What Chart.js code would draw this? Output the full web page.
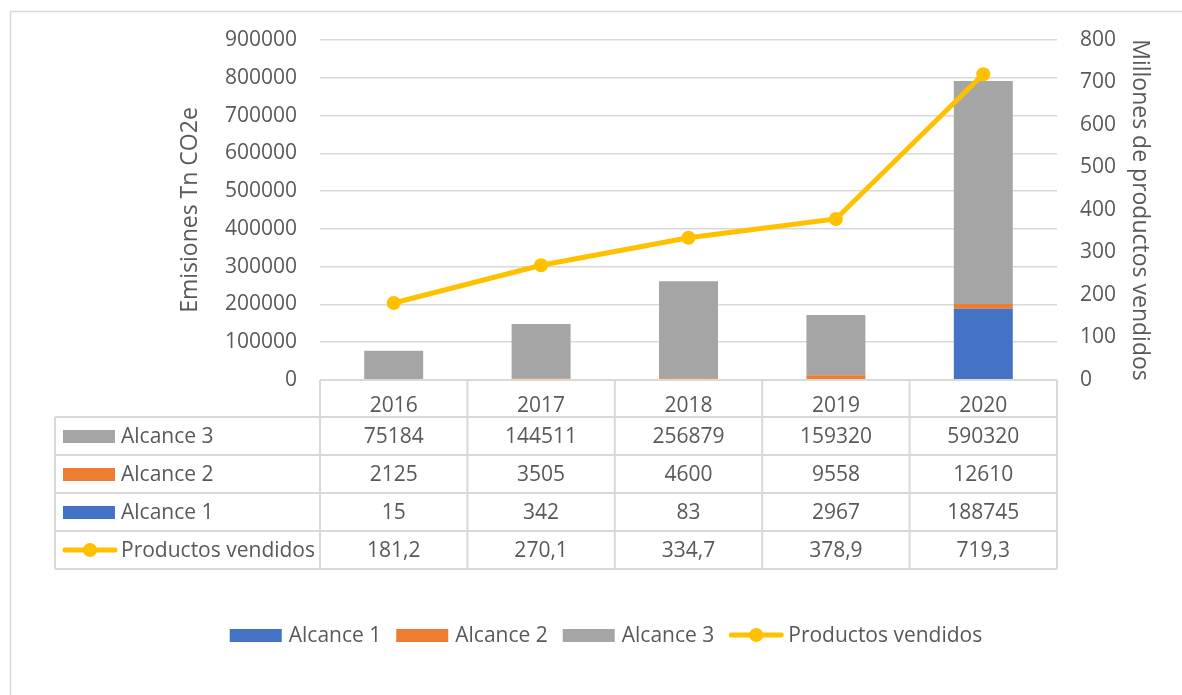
<!DOCTYPE html>
<html>
<head>
<meta charset="utf-8">
<script src="https://cdn.jsdelivr.net/npm/chart.js@4.4.1/dist/chart.umd.min.js"></script>
<style>
  html, body { margin: 0; padding: 0; background: #fff; }
  canvas { display: block; }
</style>
</head>
<body>
<canvas id="chart" width="1182" height="695"></canvas>
<script>
// data
const years = ["2016", "2017", "2018", "2019", "2020"];
const alcance1 = [15, 342, 83, 2967, 188745];
const alcance2 = [2125, 3505, 4600, 9558, 12610];
const alcance3 = [75184, 144511, 256879, 159320, 590320];
const productos = [181.2, 270.1, 334.7, 378.9, 719.3];
const leftTicks = { min: 0, max: 900000, step: 100000 };
const rightTicks = { min: 0, max: 800, step: 100 };

const BLUE = "#4472c4";
const ORANGE = "#ed7d31";
const GRAY = "#a5a5a5";
const YELLOW = "#ffc000";
const TEXT = "#595959";
const LINE = "#d9d9d9";
const FONT = "Open Sans";
const FSIZE = 21;

const fmtComma = (v) => v.toFixed(1).replace(".", ",");

// table rows, top to bottom, like the Excel data table
const tableRows = [
  { label: "Alcance 3", color: GRAY, values: alcance3, type: "bar" },
  { label: "Alcance 2", color: ORANGE, values: alcance2, type: "bar" },
  { label: "Alcance 1", color: BLUE, values: alcance1, type: "bar" },
  { label: "Productos vendidos", color: YELLOW, values: productos, type: "line", fmt: fmtComma },
];
const legendItems = [
  { label: "Alcance 1", color: BLUE, type: "bar" },
  { label: "Alcance 2", color: ORANGE, type: "bar" },
  { label: "Alcance 3", color: GRAY, type: "bar" },
  { label: "Productos vendidos", color: YELLOW, type: "line" },
];

function drawKey(ctx, item, x, cy) {
  if (item.type === "bar") {
    ctx.fillStyle = item.color;
    ctx.fillRect(x, cy - 6, 52, 13);
  } else {
    ctx.strokeStyle = item.color;
    ctx.lineWidth = 5;
    ctx.lineCap = "round";
    ctx.beginPath();
    ctx.moveTo(x + 2, cy);
    ctx.lineTo(x + 52, cy);
    ctx.stroke();
    ctx.fillStyle = item.color;
    ctx.beginPath();
    ctx.arc(x + 27, cy, 7, 0, Math.PI * 2);
    ctx.fill();
  }
}

const tablePlugin = {
  id: "dataTable",
  afterDraw(chart) {
    const ctx = chart.ctx;
    const area = chart.chartArea;
    const xs = chart.scales.x;
    const colW = xs.getPixelForValue(1) - xs.getPixelForValue(0);
    const headH = 37, rowH = 38;
    const tableLeft = 55;
    const top = area.bottom;
    const rowsTop = top + headH;
    const bottom = rowsTop + rowH * tableRows.length;

    ctx.save();
    // outer frame
    ctx.strokeStyle = LINE;
    ctx.lineWidth = 1.5;
    ctx.strokeRect(10.5, 11.5, 1300, 800);

    // grid of the table
    ctx.strokeStyle = LINE;
    ctx.lineWidth = 2;
    ctx.beginPath();
    ctx.moveTo(area.left, top); ctx.lineTo(area.right, top);
    for (let r = 0; r <= tableRows.length; r++) {
      const y = rowsTop + r * rowH;
      ctx.moveTo(tableLeft, y); ctx.lineTo(area.right, y);
    }
    ctx.moveTo(tableLeft, rowsTop); ctx.lineTo(tableLeft, bottom);
    for (let c = 0; c <= years.length; c++) {
      const x = area.left + c * colW;
      ctx.moveTo(x, top); ctx.lineTo(x, bottom);
    }
    ctx.stroke();

    ctx.font = FSIZE + "px '" + FONT + "'";
    ctx.textBaseline = "middle";
    tableRows.forEach((row, r) => {
      const cy = rowsTop + r * rowH + rowH / 2;
      drawKey(ctx, row, 63, cy);
      ctx.fillStyle = TEXT;
      ctx.textAlign = "left";
      ctx.fillText(row.label, 121, cy + 1);
      ctx.textAlign = "center";
      row.values.forEach((v, i) => {
        const txt = row.fmt ? row.fmt(v) : String(v);
        ctx.fillText(txt, xs.getPixelForValue(i), cy + 1);
      });
    });

    // legend
    const ly = 635;
    const widths = legendItems.map((it) => 52 + 7 + ctx.measureText(it.label).width);
    const gap = 15;
    const total = widths.reduce((a, b) => a + b, 0) + gap * (legendItems.length - 1);
    let lx = 606 - total / 2;
    ctx.textAlign = "left";
    legendItems.forEach((it, i) => {
      drawKey(ctx, it, lx, ly);
      ctx.fillStyle = TEXT;
      ctx.fillText(it.label, lx + 59, ly + 1);
      lx += widths[i] + gap;
    });
    ctx.restore();
  },
};

const tickFont = { family: FONT, size: FSIZE };
const titleFont = { family: FONT, size: 23 };

new Chart(document.getElementById("chart"), {
  data: {
    labels: years,
    datasets: [
      { type: "bar", label: "Alcance 1", data: alcance1, backgroundColor: BLUE, yAxisID: "y", order: 1, stack: "s" },
      { type: "bar", label: "Alcance 2", data: alcance2, backgroundColor: ORANGE, yAxisID: "y", order: 1, stack: "s" },
      { type: "bar", label: "Alcance 3", data: alcance3, backgroundColor: GRAY, yAxisID: "y", order: 1, stack: "s" },
      {
        type: "line", label: "Productos vendidos", data: productos, yAxisID: "y1", order: 0,
        borderColor: YELLOW, backgroundColor: YELLOW, borderWidth: 5,
        pointRadius: 7, pointBackgroundColor: YELLOW, pointBorderWidth: 0, tension: 0,
      },
    ],
  },
  options: {
    responsive: false,
    animation: false,
    devicePixelRatio: 1,
    layout: { padding: { top: 40, left: 0, right: 0, bottom: 0 } },
    datasets: { bar: { categoryPercentage: 1, barPercentage: 0.4 } },
    plugins: { legend: { display: false }, tooltip: { enabled: false } },
    scales: {
      x: {
        stacked: true,
        grid: { display: false },
        border: { display: false },
        ticks: { color: TEXT, font: tickFont, padding: 5, maxRotation: 0 },
        afterFit(scale) { scale.height = 315; },
      },
      y: {
        position: "left",
        stacked: true,
        min: leftTicks.min,
        max: leftTicks.max,
        grid: { color: LINE, lineWidth: 1.5, drawTicks: false },
        border: { display: false },
        ticks: { stepSize: leftTicks.step, color: TEXT, font: tickFont, padding: 23, callback: (v) => String(v) },
        title: { display: true, text: "Emisiones Tn CO2e", color: TEXT, font: titleFont, padding: { top: 177, bottom: 0 } },
        afterFit(scale) { scale.width = 320; },
      },
      y1: {
        position: "right",
        min: rightTicks.min,
        max: rightTicks.max,
        grid: { display: false, drawTicks: false },
        border: { display: false },
        ticks: { stepSize: rightTicks.step, color: TEXT, font: tickFont, padding: 23, callback: (v) => String(v) },
        title: { display: true, text: "Millones de productos vendidos", color: TEXT, font: titleFont, padding: { top: 29, bottom: 0 } },
        afterFit(scale) { scale.width = 125; },
      },
    },
  },
  plugins: [tablePlugin],
});
</script>
</body>
</html>
